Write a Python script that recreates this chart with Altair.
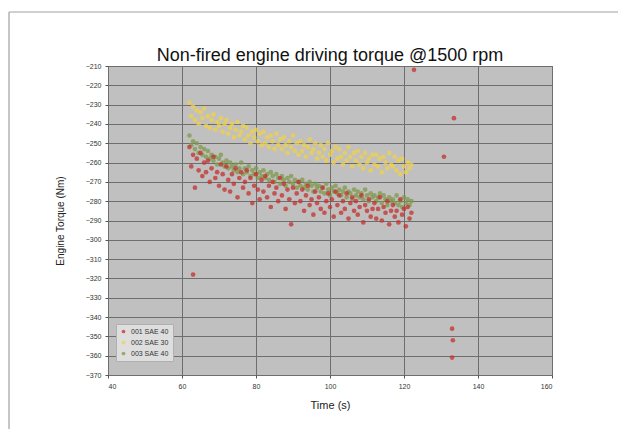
import altair as alt
import pandas as pd

# Sample times (s) for the three oil runs, every 0.5 s from 62 s to 122 s
t_start = 62.0
t_step = 0.5

s1_name = "001 SAE 40"
s2_name = "002 SAE 30"
s3_name = "003 SAE 40"

# 002 SAE 30 (yellow)
yellow_vals = [
    -229, -236, -231, -238, -233, -240, -234, -237, -232, -241,
    -236, -242, -238, -235, -243, -239, -241, -237, -244, -240,
    -238, -245, -242, -240, -247, -243, -239, -246, -244, -241,
    -248, -242, -246, -250, -244, -247, -243, -249, -245, -251,
    -244, -250, -247, -252, -246, -249, -253, -245, -251, -248,
    -253, -247, -251, -255, -249, -252, -246, -254, -250, -256,
    -249, -254, -251, -257, -252, -248, -255, -253, -250, -258,
    -255, -251, -257, -253, -259, -250, -256, -254, -260, -252,
    -258, -253, -257, -261, -255, -259, -252, -257, -262, -255,
    -259, -254, -261, -257, -263, -255, -260, -258, -264, -256,
    -261, -256, -262, -258, -265, -257, -260, -263, -255, -261,
    -262, -257, -264, -259, -266, -258, -262, -265, -260, -263,
    -261,
]

# 003 SAE 40 (olive green)
green_vals = [
    -246, -251, -249, -253, -250, -255, -252, -256, -253, -257,
    -254, -258, -256, -259, -257, -261, -258, -256, -260, -262,
    -259, -263, -260, -262, -264, -261, -265, -263, -260, -266,
    -263, -265, -262, -267, -264, -266, -263, -268, -265, -267,
    -264, -268, -266, -269, -265, -267, -270, -266, -268, -271,
    -267, -269, -272, -268, -270, -267, -271, -269, -273, -270,
    -272, -269, -273, -271, -274, -270, -272, -275, -271, -273,
    -272, -275, -273, -276, -271, -274, -277, -273, -275, -272,
    -276, -274, -277, -275, -273, -278, -275, -276, -279, -274,
    -277, -275, -278, -276, -279, -274, -277, -280, -276, -278,
    -277, -280, -278, -276, -281, -277, -279, -282, -278, -280,
    -279, -281, -277, -282, -280, -283, -278, -281, -279, -282,
    -280,
]

# 001 SAE 40 (red)
red_vals = [
    -252, -262, -256, -273, -258, -264, -255, -267, -260, -265,
    -259, -270, -263, -257, -268, -265, -272, -261, -266, -274,
    -262, -269, -275, -266, -271, -263, -278, -268, -265, -273,
    -270, -264, -276, -268, -281, -272, -266, -274, -279, -269,
    -275, -267, -278, -272, -283, -270, -276, -273, -280, -268,
    -277, -271, -284, -274, -279, -292, -273, -281, -276, -270,
    -280, -274, -285, -277, -272, -282, -279, -287, -275, -281,
    -278, -284, -273, -286, -280, -276, -283, -279, -288, -275,
    -282, -277, -286, -280, -284, -276, -289, -281, -278, -285,
    -280, -287, -283, -277, -291, -282, -285, -279, -288, -284,
    -281, -289, -284, -278, -290, -283, -286, -280, -292, -285,
    -282, -288, -285, -291, -279, -287, -284, -293, -283, -289,
    -286,
]

# stray points
stray_t = [63.0, 133.5, 130.8, 122.7, 133.0, 133.2, 133.0]
stray_v = [-318, -237, -257, -212, -346, -352, -361]

legend_order = [s1_name, s2_name, s3_name]
legend_colors = ["#c3302c", "#f0d24a", "#7f9a4c"]

rows = []
for name, vals in [(s2_name, yellow_vals), (s3_name, green_vals), (s1_name, red_vals)]:
    for i, v in enumerate(vals):
        rows.append({"t": t_start + i * t_step, "v": v, "s": name})
for t, v in zip(stray_t, stray_v):
    rows.append({"t": t, "v": v, "s": s1_name})
df = pd.DataFrame(rows)
df["ord"] = range(len(df))

W, H = 444, 309

points = alt.Chart(df).mark_circle(size=22, opacity=0.75).encode(
    x=alt.X("t:Q", title="Time (s)",
            scale=alt.Scale(domain=[40, 160], nice=False),
            axis=alt.Axis(values=list(range(40, 161, 20)), labelFontSize=7,
                          titleFontSize=11, titleFontWeight="normal",
                          gridColor="#6e6e6e", gridWidth=1, tickSize=3,
                          labelPadding=4, titlePadding=10, domain=False)),
    y=alt.Y("v:Q", title="Engine Torque (Nm)",
            scale=alt.Scale(domain=[-370, -210], nice=False),
            axis=alt.Axis(values=list(range(-370, -209, 10)), labelFontSize=7,
                          titleFontSize=10, titleFontWeight="normal",
                          gridColor="#6e6e6e", gridWidth=1, tickSize=3,
                          labelPadding=4, titlePadding=20, domain=False)),
    color=alt.Color("s:N", scale=alt.Scale(domain=legend_order, range=legend_colors),
                    legend=alt.Legend(title=None, orient="none", legendX=8, legendY=258,
                                      fillColor="#dedede", strokeColor="#b0b0b0",
                                      padding=4, labelFontSize=7, symbolSize=14,
                                      rowPadding=3, labelColor="#333333")),
    order=alt.Order("ord:Q"),
)

frame_df = pd.DataFrame({"k": [0]})
frame_left = alt.Chart(frame_df).mark_rule(color="#a0a0a0", strokeWidth=1.2, clip=False).encode(
    x=alt.value(-99), y=alt.value(-54), y2=alt.value(372))
frame_top = alt.Chart(frame_df).mark_rule(color="#a0a0a0", strokeWidth=1.2, clip=False).encode(
    x=alt.value(-99), x2=alt.value(520), y=alt.value(-54))

chart = alt.layer(points, frame_left, frame_top).properties(
    width=W, height=H,
    title=alt.TitleParams("Non-fired engine driving torque @1500 rpm", fontSize=18,
                          fontWeight="normal", color="#111111", offset=4, dy=58),
    autosize=alt.AutoSizeParams(type="none"),
    padding={"left": 100, "top": 58, "right": 66, "bottom": 54},
).configure(font="Liberation Sans").configure_view(
    fill="#c0c0c0", stroke="#666666", strokeWidth=1
).configure_axis(labelColor="#333333", titleColor="#222222", tickColor="#555555")

chart.save("out.html", embed_options={"renderer": "svg", "actions": False})
